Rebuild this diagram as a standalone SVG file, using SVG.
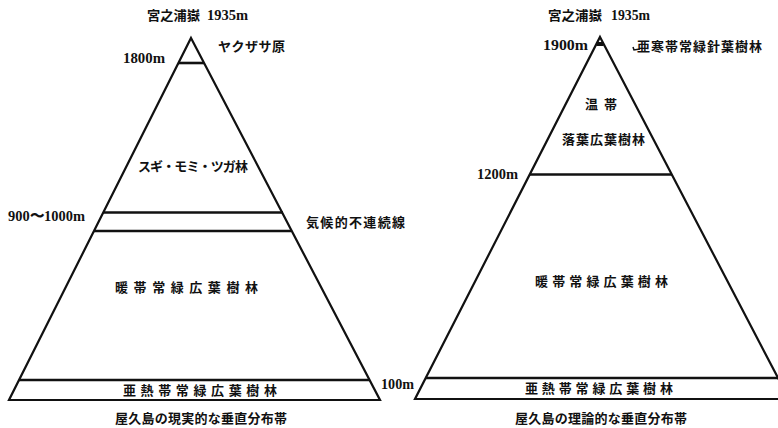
<svg xmlns="http://www.w3.org/2000/svg" width="778" height="428" viewBox="0 0 778 428">
<style>
.jp{font-family:"Noto Sans CJK JP","Noto Sans CJK SC",sans-serif;font-weight:700;font-size:13px;fill:#111}
.num{font-family:"Liberation Serif","DejaVu Serif",serif;font-weight:700;font-size:15px;fill:#111}
.edge{fill:none;stroke:#111;stroke-width:2.2;stroke-linejoin:miter}
.band{stroke:#111;stroke-width:2.6;fill:none}
</style>
<rect width="778" height="428" fill="#fff"/>
<g id="left-diagram">
  <g id="left-triangle">
    <polygon class="edge" points="191,38 380,400 9,400"/>
  </g>
  <g id="left-bands">
    <line class="band" x1="178" y1="63" x2="204" y2="63"/>
    <line class="band" x1="103" y1="212.5" x2="283" y2="212.5"/>
    <line class="band" x1="94" y1="231" x2="291" y2="231"/>
    <line class="band" x1="19" y1="380" x2="370" y2="380"/>
  </g>
  <g id="left-labels">
    <text class="jp" x="147" y="20" textLength="53" lengthAdjust="spacingAndGlyphs">宮之浦嶽</text>
    <text class="num" x="207" y="20" textLength="41" lengthAdjust="spacingAndGlyphs">1935m</text>
    <text class="num" x="123" y="63" textLength="42" lengthAdjust="spacingAndGlyphs">1800m</text>
    <text class="jp" x="218" y="51" textLength="67" lengthAdjust="spacing">ヤクザサ原</text>
    <text class="jp" x="138" y="171" font-size="11" textLength="110" lengthAdjust="spacing">スギ・モミ・ツガ林</text>
    <text class="num" x="8" y="221" textLength="77" lengthAdjust="spacingAndGlyphs">900〜1000m</text>
    <text class="jp" x="306" y="227" textLength="99" lengthAdjust="spacing">気候的不連続線</text>
    <text class="jp" x="115" y="292" font-size="12" textLength="143" lengthAdjust="spacing">暖帯常緑広葉樹林</text>
    <text class="jp" x="123" y="395" font-size="12" textLength="154" lengthAdjust="spacing">亜熱帯常緑広葉樹林</text>
    <text class="num" x="381" y="389" textLength="33" lengthAdjust="spacingAndGlyphs">100m</text>
    <text class="jp" x="115" y="423" textLength="172" lengthAdjust="spacing">屋久島の現実的な垂直分布帯</text>
  </g>
</g>
<g id="right-diagram">
  <g id="right-triangle">
    <polygon class="edge" points="600,37 789,399 415,399"/>
  </g>
  <g id="right-bands">
    <line stroke="#111" stroke-width="4" x1="596.5" y1="44" x2="603.5" y2="44"/>
    <line class="band" x1="530" y1="174.5" x2="672" y2="174.5"/>
    <line class="band" x1="426" y1="378" x2="778" y2="378"/>
  </g>
  <g id="connectors">
    <polyline fill="none" stroke="#111" stroke-width="1.5" points="633,47 634,50 640,49"/>
  </g>
  <g id="right-labels">
    <text class="jp" x="548" y="20" textLength="54" lengthAdjust="spacingAndGlyphs">宮之浦嶽</text>
    <text class="num" x="611" y="20" textLength="39" lengthAdjust="spacingAndGlyphs">1935m</text>
    <text class="num" x="543" y="50" textLength="45" lengthAdjust="spacingAndGlyphs">1900m</text>
    <text class="jp" x="637" y="51" textLength="125" lengthAdjust="spacing">亜寒帯常緑針葉樹林</text>
    <text class="jp" x="585" y="109" textLength="32" lengthAdjust="spacing">温帯</text>
    <text class="jp" x="562" y="144" textLength="83" lengthAdjust="spacing">落葉広葉樹林</text>
    <text class="num" x="477" y="179" textLength="41" lengthAdjust="spacingAndGlyphs">1200m</text>
    <text class="jp" x="535" y="286" font-size="12" textLength="133" lengthAdjust="spacing">暖帯常緑広葉樹林</text>
    <text class="jp" x="525" y="393" font-size="12" textLength="148" lengthAdjust="spacing">亜熱帯常緑広葉樹林</text>
    <text class="jp" x="515" y="423" textLength="172" lengthAdjust="spacing">屋久島の理論的な垂直分布帯</text>
  </g>
</g>
</svg>
